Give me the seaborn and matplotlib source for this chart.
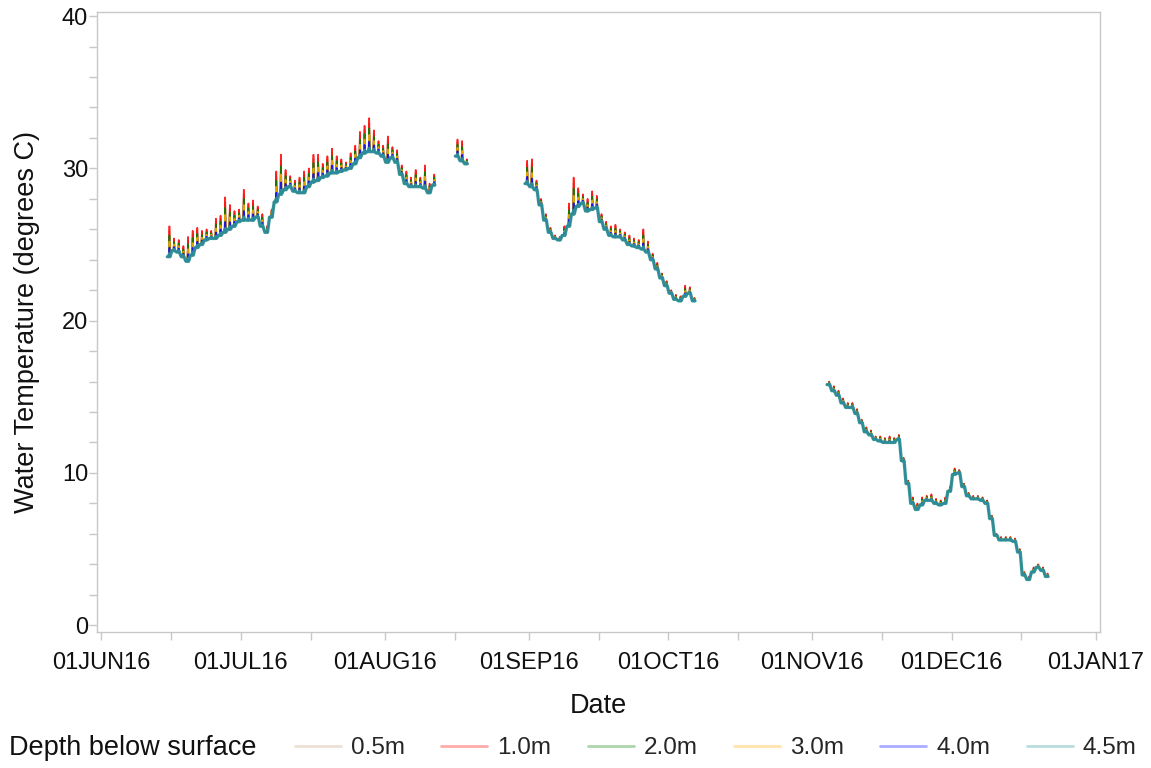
import matplotlib
matplotlib.use("Agg")
import matplotlib.pyplot as plt
import matplotlib.dates as mdates
from matplotlib.colors import to_hex
from matplotlib.ticker import FuncFormatter, MultipleLocator
import seaborn as sns
import numpy as np
import pandas as pd


depths = ["0.5m", "1.0m", "2.0m", "3.0m", "4.0m", "4.5m"]
depth_colors = ["#c8a47e", "#ff0000", "#008000", "#ffaa00", "#0000ff", "#008080"]
# how much of the afternoon spike shows up at each depth
depth_share = [0.85, 1.0, 0.7, 0.5, 0.3, 0.1]

# logger deployments (first day of each run)
seg_start = ["2016-06-15", "2016-08-16", "2016-08-31", "2016-11-04"]

# night-time (base) and afternoon (peak) temperatures, one value per day
base_1 = [24.2, 24.6, 24.5, 24.2, 23.9, 24.3, 24.8, 25.0, 25.3, 25.4,
          25.4, 25.6, 25.8, 26.0, 26.2, 26.5, 26.6, 26.6, 26.6, 26.8,
          26.2, 25.8, 26.8, 27.8, 28.3, 28.6, 28.8, 28.5, 28.4, 28.4,
          28.8, 29.1, 29.2, 29.4, 29.5, 29.7, 29.7, 29.8, 29.9, 30.0,
          30.3, 30.7, 31.0, 31.1, 31.1, 31.0, 30.8, 30.4, 30.7, 30.4,
          29.6, 29.0, 28.8, 28.8, 28.8, 28.7, 28.4, 28.9]
peak_1 = [26.2, 25.4, 25.3, 24.9, 25.5, 25.9, 26.1, 25.9, 26.0, 25.9,
          26.7, 26.9, 28.1, 27.6, 27.2, 27.3, 28.6, 27.7, 27.9, 27.5,
          27.0, 26.2, 27.3, 29.8, 30.9, 29.9, 29.5, 29.2, 29.4, 29.8,
          30.0, 30.9, 30.9, 30.3, 30.8, 31.3, 30.8, 30.6, 30.4, 31.0,
          31.5, 32.4, 32.8, 33.3, 32.5, 31.8, 31.5, 32.1, 31.4, 31.2,
          30.2, 29.8, 29.4, 29.9, 29.4, 30.2, 29.0, 29.6]

base_2 = [30.8, 30.5, 30.3]
peak_2 = [31.9, 31.8, 30.6]

base_3 = [29.0, 28.8, 28.6, 27.6, 26.6, 25.8, 25.4, 25.3, 25.6, 26.2,
          27.0, 27.5, 27.7, 27.2, 27.3, 27.4, 26.5, 26.0, 25.6, 25.5,
          25.5, 25.3, 25.0, 24.9, 24.8, 24.7, 24.5, 24.0, 23.4, 22.8,
          22.3, 21.8, 21.4, 21.3, 21.6, 21.8, 21.3]
peak_3 = [30.5, 30.6, 29.2, 28.0, 27.0, 26.1, 25.6, 25.5, 26.2, 27.7,
          29.4, 28.7, 28.3, 28.0, 28.5, 28.2, 27.0, 26.5, 26.2, 26.3,
          26.0, 25.8, 25.6, 25.4, 25.3, 26.0, 25.2, 24.4, 23.8, 23.1,
          22.6, 22.0, 21.7, 21.6, 22.3, 22.2, 21.5]

base_4 = [15.8, 15.4, 15.1, 14.6, 14.3, 14.3, 13.9, 13.3, 12.7, 12.5,
          12.2, 12.1, 12.0, 12.0, 12.0, 12.2, 10.8, 9.3, 8.0, 7.6,
          7.9, 8.2, 8.2, 8.0, 7.9, 8.0, 8.8, 9.9, 10.0, 9.1,
          8.5, 8.3, 8.3, 8.2, 8.0, 7.0, 5.9, 5.6, 5.6, 5.6,
          5.5, 4.8, 3.3, 3.0, 3.5, 3.8, 3.6, 3.2]
peak_4 = [16.0, 15.7, 15.4, 14.9, 14.6, 14.6, 14.2, 13.5, 13.0, 12.8,
          12.4, 12.4, 12.3, 12.4, 12.3, 12.5, 11.0, 9.5, 8.4, 8.0,
          8.4, 8.5, 8.6, 8.3, 8.2, 8.4, 9.1, 10.3, 10.2, 9.3,
          8.7, 8.5, 8.5, 8.4, 8.2, 7.2, 6.0, 5.8, 5.8, 5.8,
          5.7, 5.0, 3.5, 3.2, 3.8, 4.0, 3.8, 3.4]

segments = [(base_1, peak_1), (base_2, peak_2), (base_3, peak_3), (base_4, peak_4)]

# daily shape: flat overnight and morning, short afternoon spike
rows = []
for s, (start, (base, peak)) in enumerate(zip(seg_start, segments)):
    day0 = pd.Timestamp(start)
    for i, (b, p) in enumerate(zip(base, peak)):
        day = day0 + pd.Timedelta(days=i)
        for d, share in zip(depths, depth_share):
            top = b + share * (p - b)
            for hr, val in [(4, b), (12, b), (15, top), (18, b)]:
                rows.append((s, d, day + pd.Timedelta(hours=hr), val))
df = pd.DataFrame(rows, columns=["segment", "depth", "time", "temp"])

sns.set_theme(style="white")
plt.rcParams["font.family"] = ["Liberation Sans", "DejaVu Sans"]

fig = plt.figure(figsize=(11.51, 7.68), dpi=100)
ax = fig.add_axes([0.0843, 0.177, 0.8714, 0.807])

sns.lineplot(data=df, x="time", y="temp", hue="depth", hue_order=depths,
             palette=depth_colors, units="segment", estimator=None,
             linewidth=1.2, alpha=0.85, ax=ax)

# the deepest logger sits on top as a wider teal band
for ln in ax.get_lines():
    if to_hex(ln.get_color()) == depth_colors[-1]:
        ln.set_color("#2f9696")
        ln.set_linewidth(2.4)
        ln.set_alpha(0.9)

grey = "#c8c8c8"
for sp in ax.spines.values():
    sp.set_color(grey)
    sp.set_linewidth(1)

ax.set_ylim(-0.45, 40.25)
ax.yaxis.set_major_locator(MultipleLocator(10))
ax.yaxis.set_minor_locator(MultipleLocator(2))
ax.set_xlim(pd.Timestamp("2016-05-31 01:00"), pd.Timestamp("2017-01-01 22:00"))
ax.xaxis.set_major_locator(mdates.MonthLocator())
ax.xaxis.set_minor_locator(mdates.MonthLocator(bymonthday=16))
ax.xaxis.set_major_formatter(FuncFormatter(lambda v, pos: mdates.num2date(v).strftime("%d%b%y").upper()))

ax.tick_params(axis="both", which="major", direction="out", length=6, width=1,
               color=grey, labelsize=17, labelcolor="#111111",
               bottom=True, left=True)
ax.tick_params(axis="x", which="major", pad=8)
ax.tick_params(axis="y", which="major", pad=0.5)
ax.tick_params(axis="both", which="minor", direction="out", length=6, width=1,
               color=grey, bottom=True, left=True)

ax.set_xlabel("Date", fontsize=19.5, color="#111111", labelpad=14)
ax.set_ylabel("Water Temperature (degrees C)", fontsize=19.5, color="#111111", labelpad=16)

handles, labels = ax.get_legend_handles_labels()
ax.get_legend().remove()
for h in handles:
    h.set_alpha(0.33)
    h.set_linewidth(2)
fig.legend(handles, labels, loc="center right", bbox_to_anchor=(1.0, 0.026),
           ncol=6, frameon=False, fontsize=17.5, handlelength=1.9,
           handletextpad=0.4, columnspacing=1.5, borderpad=0.1)
fig.text(0.008, 0.026, "Depth below surface", fontsize=19.5, color="#111111",
         ha="left", va="center")

fig.savefig("out.png", dpi=100)
